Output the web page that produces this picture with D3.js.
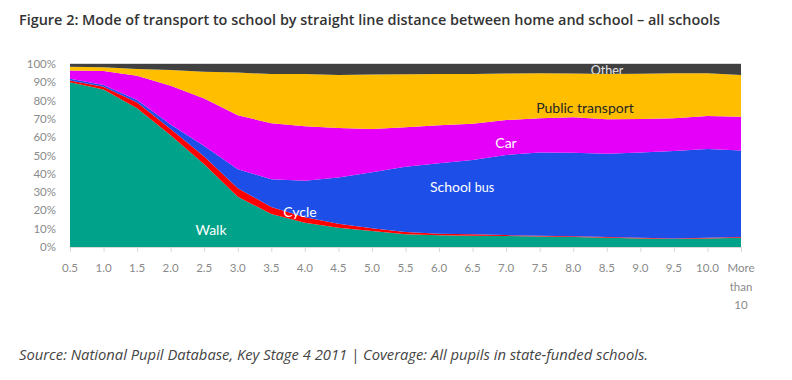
<!DOCTYPE html>
<html><head><meta charset="utf-8">
<script src="https://cdn.jsdelivr.net/npm/d3@7"></script>
<style>
body{margin:0;background:#fff;}
svg{display:block;}
</style></head>
<body>
<svg id="chart" width="792" height="380"></svg>
<script>
const categories = ["0.5","1.0","1.5","2.0","2.5","3.0","3.5","4.0","4.5","5.0","5.5","6.0","6.5","7.0","7.5","8.0","8.5","9.0","9.5","10.0","More than 10"];
const seriesNames = ["Walk","Cycle","School bus","Car","Public transport","Other"];
const walk   = [90,86,75.8,61,45.2,27.5,18,13.3,10.5,8.7,7,6.4,6.2,6,5.7,5.5,5.1,4.7,4.4,4.7,5.1];
const cycle  = [1,1.6,3.2,3.5,4.2,4.6,3.9,3.0,2.2,1.6,1.2,0.9,0.7,0.5,0.4,0.4,0.3,0.3,0.3,0.3,0.3];
const bus    = [1,0.9,1.3,2.5,5.8,10.4,15.1,19.9,25.3,30.5,35.6,38.4,40.6,43.8,45.5,45.6,45.6,46.7,47.8,48.6,47.3];
const car    = [4.4,7.7,13.3,21.1,26,29.5,30.6,29.8,27,23.7,21.7,20.8,19.8,19.1,18.7,19.4,18.8,18.2,17.8,18,18.5];
const publicT= [2.1,2.0,3.7,8.6,14.6,23.3,26.9,28.5,29,29.7,28.9,28,27.3,25.4,24.6,23.9,24.8,24.8,24.6,23.3,22.8];
const other  = [1.5,1.8,2.7,3.3,4.2,4.7,5.5,5.5,6,5.8,5.6,5.5,5.4,5.2,5.1,5.2,5.4,5.3,5.1,5.1,6];
const yTicks = [0,10,20,30,40,50,60,70,80,90,100];
const colors = ["#00A389","#FF0000","#1D4FE8","#E500FA","#FFBE00","#404040"];

const rows = categories.map((c,i)=>({cat:c, "Walk":walk[i], "Cycle":cycle[i], "School bus":bus[i], "Car":car[i], "Public transport":publicT[i], "Other":other[i]}));

const svg = d3.select("#chart");
const x = d3.scalePoint().domain(categories).range([70,741]);
const y = d3.scaleLinear().domain([0,100]).range([247,64]);

const stack = d3.stack().keys(seriesNames).offset(d3.stackOffsetExpand);
const layers = stack(rows);
const yE = d3.scaleLinear().domain([0,1]).range([247,64]);
const area = d3.area().x(d=>x(d.data.cat)).y0(d=>yE(d[0])).y1(d=>yE(d[1]));

svg.append("line").attr("x1",70).attr("x2",741).attr("y1",63.5).attr("y2",63.5).attr("stroke","#d9d9d9");

svg.append("g").selectAll("path").data(layers).join("path")
  .attr("d",area).attr("fill",(d,i)=>colors[i]);

const xAxis = svg.append("g").attr("transform","translate(0,247)")
  .call(d3.axisBottom(x).tickSize(5).tickFormat(""));
xAxis.select(".domain").attr("stroke","#d9d9d9");
xAxis.selectAll(".tick line").attr("stroke","#d9d9d9");
const xl = svg.append("g").attr("font-family","Lato, 'Open Sans', sans-serif").attr("font-size",11.5).attr("fill","#8a8a8a");
categories.forEach(c=>{
  const parts = c.split(" ");
  const t = xl.append("text").attr("x",x(c)).attr("y",272).attr("text-anchor","middle");
  parts.forEach((p,k)=>t.append("tspan").attr("x",x(c)).attr("dy",k===0?0:18.5).text(p));
});

const yl = svg.append("g").attr("font-family","Lato, 'Open Sans', sans-serif").attr("font-size",11.5).attr("fill","#8a8a8a");
yTicks.forEach(v=>{
  yl.append("text").attr("x",56).attr("y",y(v)+4).attr("text-anchor","end").text(v+"%");
});

const lab = svg.append("g").attr("font-family","Lato, 'Open Sans', sans-serif");
lab.append("text").attr("x",211).attr("y",235).attr("text-anchor","middle").attr("font-size",14).attr("fill","#fff").text("Walk");
lab.append("text").attr("x",300).attr("y",217).attr("text-anchor","middle").attr("font-size",14).attr("fill","#fff").text("Cycle");
const sb = lab.append("text").attr("x",462).attr("y",192).attr("text-anchor","middle").attr("font-size",14).attr("fill","#fff");
sb.append("tspan").text("School ");
sb.append("tspan").attr("font-size",12.5).text("bus");
lab.append("text").attr("x",506).attr("y",148).attr("text-anchor","middle").attr("font-size",14).attr("fill","#fff").text("Car");
lab.append("text").attr("x",585).attr("y",113).attr("text-anchor","middle").attr("font-size",14).attr("fill","#262626").text("Public transport");
svg.append("clipPath").attr("id","oclip").append("rect").attr("x",560).attr("y",64).attr("width",100).attr("height",10);
lab.append("text").attr("x",607).attr("y",75).attr("text-anchor","middle").attr("font-size",12.5).attr("fill","#e6e6e6").attr("clip-path","url(#oclip)").text("Other");

const title = svg.append("text").attr("x",19).attr("y",25).attr("font-family","'Open Sans', sans-serif").attr("font-weight",600).attr("font-size",13).attr("fill","#333")
  .text("Figure 2: Mode of transport to school by straight line distance between home and school – all schools");
let w = title.node().getComputedTextLength();
title.attr("font-size",13*702/w);
const src = svg.append("text").attr("x",19).attr("y",360).attr("font-family","'Open Sans', sans-serif").attr("font-style","italic").attr("font-size",13).attr("fill","#444")
  .text("Source: National Pupil Database, Key Stage 4 2011 | Coverage: All pupils in state-funded schools.");
w = src.node().getComputedTextLength();
src.attr("font-size",13*630/w);
</script>
</body></html>
